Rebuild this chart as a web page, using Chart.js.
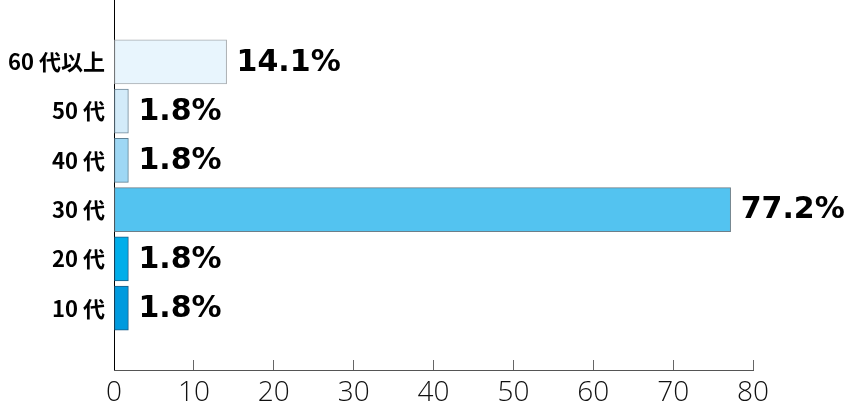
<!DOCTYPE html>
<html>
<head>
<meta charset="utf-8">
<script src="https://cdn.jsdelivr.net/npm/chart.js@4"></script>
<style>
  html, body { margin: 0; padding: 0; background: #fff; }
  #wrap { width: 847px; height: 409px; }
</style>
</head>
<body>
<div id="wrap"><canvas id="myChart"></canvas></div>
<script>
const categories = ["60 代以上", "50 代", "40 代", "30 代", "20 代", "10 代"];
const shares = [14.1, 1.8, 1.8, 77.2, 1.8, 1.8];
const xTicks = [0, 10, 20, 30, 40, 50, 60, 70, 80];

const fills = ["#e8f5fd", "#d3ebf9", "#9ed7f4", "#53c3f0", "#00aeea", "#009ade"];
const edges = ["#a9adb0", "#6f8797", "#5d8094", "#6d7f89", "#1c5d86", "#1b5a82"];

// space above the first and below the last bar, in category units
const yPad = 1.255;

// value text to the right of each bar
const valueLabels = {
	id: "valueLabels",
	afterDatasetsDraw(chart) {
		const ctx = chart.ctx;
		const meta = chart.getDatasetMeta(0);
		ctx.save();
		ctx.font = 'bold 30px "DejaVu Sans"';
		ctx.fillStyle = "#000";
		ctx.textBaseline = "middle";
		meta.data.forEach((bar, i) => {
			ctx.fillText(shares[i].toFixed(1) + "%", bar.x + 10, bar.y + 1);
		});
		ctx.restore();
	},
};

const config = {
	type: "bar",
	data: {
		datasets: [
			{
				data: categories.map((c, i) => ({ x: shares[i], y: i })),
				backgroundColor: fills,
				borderColor: edges,
				borderWidth: 1,
				borderSkipped: false,
				barThickness: 44,
			},
		],
	},
	options: {
		indexAxis: "y",
		responsive: true,
		maintainAspectRatio: false,
		animation: false,
		layout: { padding: { top: 0, right: 94, bottom: 0, left: 0 } },
		plugins: {
			legend: { display: false },
			tooltip: { enabled: false },
		},
		scales: {
			y: {
				type: "linear",
				reverse: true,
				offset: false,
				min: -yPad,
				max: categories.length - 1 + yPad,
				afterBuildTicks: (scale) => {
					scale.ticks = categories.map((c, i) => ({ value: i }));
				},
				afterFit: (scale) => {
					scale.width = 114;
					scale.paddingTop = 0;
					scale.paddingBottom = 0;
				},
				grid: { display: false },
				border: { display: true, color: "#000", width: 1 },
				ticks: {
					padding: 1,
					color: "#000",
					font: { family: '"Noto Sans CJK JP"', size: 22, weight: "bold" },
					callback: (v) => categories[v],
				},
			},
			x: {
				min: 0,
				max: 80,
				afterBuildTicks: (scale) => {
					scale.ticks = xTicks.map((v) => ({ value: v }));
				},
				afterFit: (scale) => {
					scale.height = 39;
				},
				grid: { drawOnChartArea: false, tickLength: -10, color: "#666" },
				border: { display: true, color: "#555", width: 1 },
				ticks: {
					padding: 16,
					color: "#111",
					maxRotation: 0,
					font: { family: '"Open Sans"', size: 28, weight: "300" },
				},
			},
		},
	},
	plugins: [valueLabels],
};

var myChart = new Chart(document.getElementById("myChart"), config);
</script>
</body>
</html>
